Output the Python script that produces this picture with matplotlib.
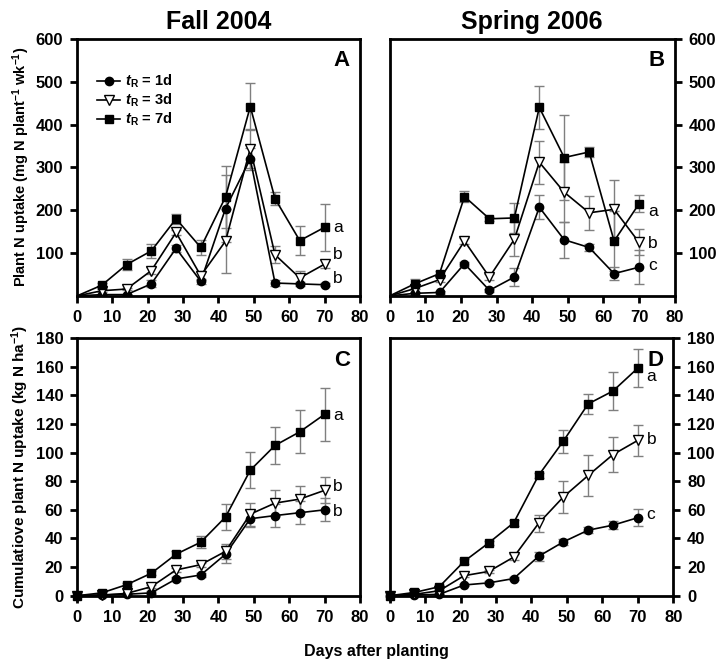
import matplotlib
matplotlib.use("Agg")
import matplotlib.pyplot as plt
import numpy as np

plt.rcParams['font.family'] = ['Liberation Sans', 'DejaVu Sans']
plt.rcParams['font.weight'] = 'bold'
plt.rcParams['mathtext.fontset'] = 'custom'
plt.rcParams['mathtext.rm'] = 'Liberation Sans:bold'
plt.rcParams['mathtext.bf'] = 'Liberation Sans:bold'
plt.rcParams['mathtext.it'] = 'Liberation Sans:bold:italic'
try:
    plt.rcParams['mathtext.bfit'] = 'Liberation Sans:bold:italic'
except KeyError:
    pass

days = [0, 7, 14, 21, 28, 35, 42, 49, 56, 63, 70]
labels = ['1d', '3d', '7d']

# Panel A (Fall 2004, weekly uptake)
a_1d = [0, 3, 3, 28, 111, 34, 204, 320, 30, 28, 26]
a_3d = [0, 12, 16, 59, 148, 47, 128, 344, 96, 42, 74]
a_7d = [0, 25, 73, 105, 180, 113, 231, 442, 227, 129, 160]
a_1d_err = [0, 2, 2, 8, 8, 6, 78, 25, 8, 5, 4]
a_3d_err = [0, 3, 3, 8, 6, 10, 75, 45, 20, 15, 10]
a_7d_err = [0, 5, 12, 17, 12, 18, 72, 54, 15, 33, 55]

# Panel B (Spring 2006, weekly uptake)
b_1d = [0, 6, 8, 75, 13, 44, 207, 131, 113, 52, 67]
b_3d = [0, 17, 38, 128, 44, 132, 312, 242, 194, 202, 125]
b_7d = [0, 28, 52, 232, 180, 182, 440, 323, 336, 128, 215]
b_1d_err = [0, 3, 3, 5, 4, 20, 28, 42, 8, 15, 40]
b_3d_err = [0, 8, 5, 8, 6, 40, 50, 70, 40, 68, 30]
b_7d_err = [0, 12, 5, 13, 5, 35, 50, 100, 12, 70, 20]

# Panel C (Fall 2004, cumulative)
c_1d = [0, 0.5, 1, 2, 11.7, 14.5, 29, 53.8, 56, 58, 60]
c_3d = [0, 0.5, 1.6, 6.3, 18, 21.7, 31, 57, 64.7, 67.5, 73.6]
c_7d = [0, 2, 7.7, 15.7, 29, 37.4, 55, 87.7, 105, 114.5, 126.7]
c_1d_err = [0, 0.3, 0.5, 1, 1.5, 1.5, 6, 6, 8, 8, 8]
c_3d_err = [0, 0.3, 0.5, 1, 1.5, 1.5, 5, 8, 9, 9, 9]
c_7d_err = [0, 0.5, 1, 1.5, 2, 4, 9, 12.5, 13, 15, 18.5]

# Panel D (Spring 2006, cumulative)
d_1d = [0, 0.5, 1, 7.5, 9, 12, 27.5, 37.6, 45.8, 49.3, 54.5]
d_3d = [0, 1, 3.5, 14, 17, 27, 50.5, 69, 84, 98.6, 108.5]
d_7d = [0, 2.3, 6.3, 24, 37, 51, 84, 108, 134, 143, 159]
d_1d_err = [0, 0.3, 0.5, 1, 1, 1, 3, 2, 2, 3, 6]
d_3d_err = [0, 0.3, 0.5, 1, 1, 2, 6, 11, 14, 12, 11]
d_7d_err = [0, 0.5, 1, 1.5, 1.5, 2, 2, 8, 7, 13, 13.5]

fig = plt.figure(figsize=(7.27, 6.59), dpi=100)
axA = fig.add_axes([0.106, 0.551, 0.389, 0.390])
axB = fig.add_axes([0.536, 0.551, 0.392, 0.390])
axC = fig.add_axes([0.106, 0.096, 0.389, 0.391])
axD = fig.add_axes([0.536, 0.096, 0.390, 0.391])

styles = [
    dict(marker='o', mfc='black', mec='black', ms=6),
    dict(marker='v', mfc='white', mec='black', ms=7),
    dict(marker='s', mfc='black', mec='black', ms=6),
]

def draw(ax, series, errs, skip_zero, ylim, yticks, letter, sig, sig_y, right=False):
    for i, (y, e) in enumerate(zip(series, errs)):
        me = slice(1, None) if skip_zero else None
        ax.errorbar(days, y, yerr=e, fmt='none', ecolor='#7f7f7f', elinewidth=1.0,
                    capsize=3.5, capthick=1.0, zorder=2)
        ax.plot(days, y, color='black', lw=1.2, markevery=me, zorder=3 + i,
                label=r'$\mathbfit{t}_{\mathbf{R}}$ = ' + labels[i],
                clip_on=skip_zero, **styles[i])
    ax.set_xlim(0, 80)
    ax.set_ylim(*ylim)
    ax.set_xticks(range(0, 81, 10))
    ax.set_yticks(yticks)
    for s in ax.spines.values():
        s.set_linewidth(2)
    ax.tick_params(direction='out', length=5, width=2, labelsize=12, pad=5)
    if right:
        ax.yaxis.tick_right()
        ax.yaxis.set_label_position('right')
    for lab in ax.get_xticklabels() + ax.get_yticklabels():
        lab.set_fontweight('bold')
    ax.text(0.965, 0.955, letter, transform=ax.transAxes, ha='right', va='top',
            fontsize=16, fontweight='bold')
    for t, yy in zip(sig, sig_y):
        ax.text(72.5, yy, t, ha='left', va='center', fontsize=12.5, fontweight='normal')

draw(axA, [a_1d, a_3d, a_7d], [a_1d_err, a_3d_err, a_7d_err], True, (0, 600),
     range(100, 601, 100), 'A', ['a', 'b', 'b'], [160, 96, 40])
draw(axB, [b_1d, b_3d, b_7d], [b_1d_err, b_3d_err, b_7d_err], True, (0, 600),
     range(100, 601, 100), 'B', ['a', 'b', 'c'], [197, 122, 72], right=True)
draw(axC, [c_1d, c_3d, c_7d], [c_1d_err, c_3d_err, c_7d_err], False, (0, 180),
     range(0, 181, 20), 'C', ['a', 'b', 'b'], [126, 76, 59])
draw(axD, [d_1d, d_3d, d_7d], [d_1d_err, d_3d_err, d_7d_err], False, (0, 180),
     range(0, 181, 20), 'D', ['a', 'b', 'c'], [153, 109, 57], right=True)

axA.set_ylabel(r'Plant N uptake (mg N plant$^{\mathbf{-1}}$ wk$^{\mathbf{-1}}$)',
               fontsize=10.5, fontweight='bold', labelpad=3)
axC.set_ylabel(r'Cumulatiove plant N uptake (kg N ha$^{\mathbf{-1}}$)',
               fontsize=11, fontweight='bold', labelpad=3)

leg = axA.legend(loc='upper left', bbox_to_anchor=(0.05, 0.89), frameon=False,
                 fontsize=10.5, handlelength=1.6, handletextpad=0.3, labelspacing=0.1,
                 borderaxespad=0)

axA.set_title('Fall 2004', fontsize=18, fontweight='bold', pad=7)
axB.set_title('Spring 2006', fontsize=18, fontweight='bold', pad=7)
fig.text(0.518, 0.012, 'Days after planting', ha='center', va='center',
         fontsize=11.5, fontweight='bold')

fig.savefig('out.png', dpi=100)
